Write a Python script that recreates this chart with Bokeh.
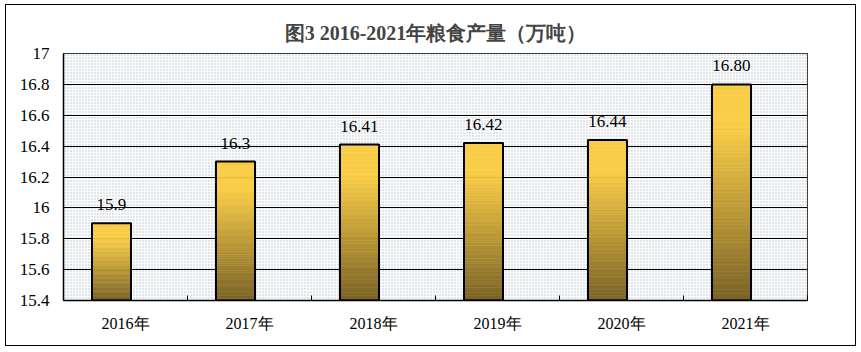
from bokeh.plotting import figure
from bokeh.models import FixedTicker, Range1d, ColumnDataSource
from bokeh.core.properties import value
from bokeh.embed import file_html
from bokeh.resources import INLINE

categories = ["2016年", "2017年", "2018年", "2019年", "2020年", "2021年"]
values = [15.9, 16.3, 16.41, 16.42, 16.44, 16.80]
value_labels = ["15.9", "16.3", "16.41", "16.42", "16.44", "16.80"]
y_ticks = [15.4, 15.6, 15.8, 16.0, 16.2, 16.4, 16.6, 16.8, 17.0]
y_tick_labels = ["15.4", "15.6", "15.8", "16", "16.2", "16.4", "16.6", "16.8", "17"]
title_text = "图3 2016-2021年粮食产量（万吨）"

Y0, Y1 = 15.4, 17.0
FONT = "Liberation Serif"

p = figure(width=851, height=342, output_backend="svg", toolbar_location=None,
           x_range=Range1d(0, len(categories)), y_range=Range1d(Y0, Y1),
           min_border_left=57, min_border_right=50, min_border_top=48, min_border_bottom=47)
p.styles = {"border": "1px solid black", "margin-left": "5px", "margin-top": "4px"}
p.background_fill_color = "white"
p.border_fill_color = "white"
p.outline_line_color = "black"
p.outline_line_width = 1

p.title.text = title_text
p.title.align = "center"
p.title.text_font = FONT
p.title.text_font_size = "20px"
p.title.text_font_style = "bold"
p.title.offset = -4
p.title.padding = 5

# dotted background of plot area
p.quad(left=[0], right=[len(categories)], bottom=[Y0], top=[Y1], fill_color="white",
       line_color=None, hatch_pattern="dot", hatch_color="#b0bec9", hatch_scale=3,
       hatch_weight=1, level="image")

# gradient bars made from thin slices
top_col = (249, 205, 70)
bot_col = (122, 98, 38)
N = 60
offset = -0.113
bw = 0.315
sl, sr, sb, st, sc = [], [], [], [], []
for i, v in enumerate(values):
    cx = i + 0.5 + offset
    h = v - Y0
    for k in range(N):
        b = Y0 + h * k / N
        t = Y0 + h * (k + 1) / N
        f = (k + 0.5) / N
        f2 = min(1.0, f * 1.25)
        c = tuple(int(bot_col[j] + (top_col[j] - bot_col[j]) * f2) for j in range(3))
        sl.append(cx - bw / 2); sr.append(cx + bw / 2); sb.append(b); st.append(t)
        sc.append("#%02x%02x%02x" % c)
p.quad(left=sl, right=sr, bottom=sb, top=st, fill_color=sc, line_color=sc, line_width=0.5)
bx = [i + 0.5 + offset for i in range(len(values))]
p.quad(left=[x - bw / 2 for x in bx], right=[x + bw / 2 for x in bx], bottom=[Y0] * len(values),
       top=values, fill_alpha=0, line_color="black", line_width=2)

# value labels
src = ColumnDataSource(dict(x=bx, y=values, t=value_labels))
p.text(x="x", y="y", text="t", source=src, text_font=value(FONT), text_font_size="17px",
       text_align="center", text_baseline="bottom", y_offset=-13, text_color="black")

# axes
p.xaxis.ticker = FixedTicker(ticks=[i + 0.5 for i in range(len(categories))],
                             minor_ticks=list(range(len(categories) + 1)))
p.xaxis.major_label_overrides = {i + 0.5: c for i, c in enumerate(categories)}
p.xaxis.major_tick_in = 0
p.xaxis.major_tick_out = 0
p.xaxis.minor_tick_in = 5
p.xaxis.minor_tick_out = 0
p.xaxis.minor_tick_line_color = "black"
p.xaxis.axis_line_color = "black"
p.xaxis.axis_line_width = 1.5
p.xaxis.major_label_standoff = 14
p.xaxis.major_label_text_font = FONT
p.xaxis.major_label_text_font_size = "16px"
p.xaxis.major_label_text_color = "black"

p.yaxis.ticker = FixedTicker(ticks=y_ticks)
p.yaxis.major_label_overrides = {t: l for t, l in zip(y_ticks, y_tick_labels)}
p.yaxis.major_tick_in = 0
p.yaxis.major_tick_out = 0
p.yaxis.minor_tick_in = 0
p.yaxis.minor_tick_out = 0
p.yaxis.axis_line_color = "black"
p.yaxis.axis_line_width = 1.5
p.yaxis.major_label_standoff = 14
p.yaxis.major_label_text_font = FONT
p.yaxis.major_label_text_font_size = "17px"
p.yaxis.major_label_text_color = "black"

p.xgrid.visible = False
p.ygrid.ticker = FixedTicker(ticks=y_ticks[1:-1])
p.ygrid.grid_line_color = "black"
p.ygrid.grid_line_width = 1

open("out.html", "w").write(file_html(p, INLINE))
